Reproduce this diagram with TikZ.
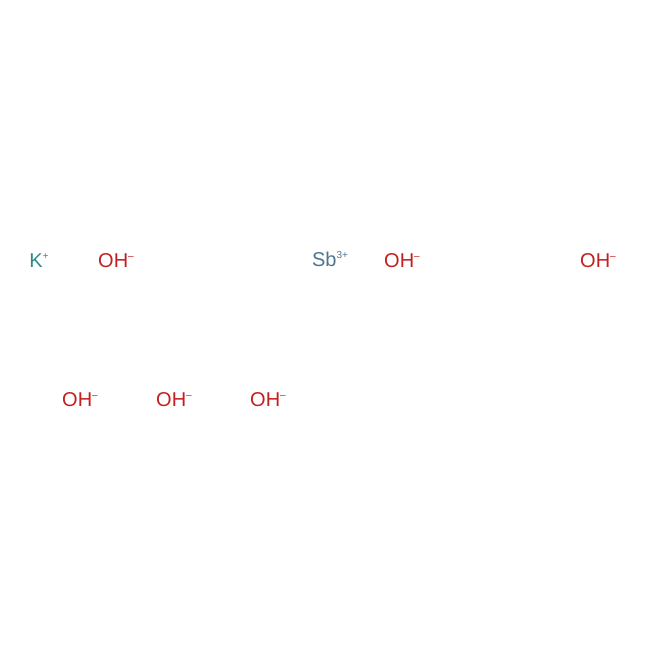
\documentclass[tikz,border=0pt]{standalone}
\usepackage{fontspec}
\setmainfont{Liberation Sans}
\definecolor{ored}{HTML}{C41E1E}
\definecolor{kcol}{HTML}{2E8A8A}
\definecolor{sbcol}{HTML}{4D7590}
\newcommand{\chg}[1]{\raisebox{0.75ex}{\fontsize{10}{10}\selectfont #1}}
\tikzset{
  ion/.style={inner sep=0pt, font=\fontsize{20}{20}\selectfont},
  oh/.style={ion, text=ored},
}
\begin{document}
\begin{tikzpicture}[x=1pt,y=-1pt]
\useasboundingbox (0,0) rectangle (650,650);
\node[ion, text=kcol] (k) at (39,261) {K\chg{+}};
\node[oh] (oh1) at (116,261) {OH\chg{–}};
\node[ion, text=sbcol] (sb) at (330,259) {Sb\chg{3+}};
\node[oh] (oh2) at (402,261) {OH\chg{–}};
\node[oh] (oh3) at (598,261) {OH\chg{–}};
\node[oh] (oh4) at (80,400) {OH\chg{–}};
\node[oh] (oh5) at (174,400) {OH\chg{–}};
\node[oh] (oh6) at (268,400) {OH\chg{–}};
\end{tikzpicture}
\end{document}
